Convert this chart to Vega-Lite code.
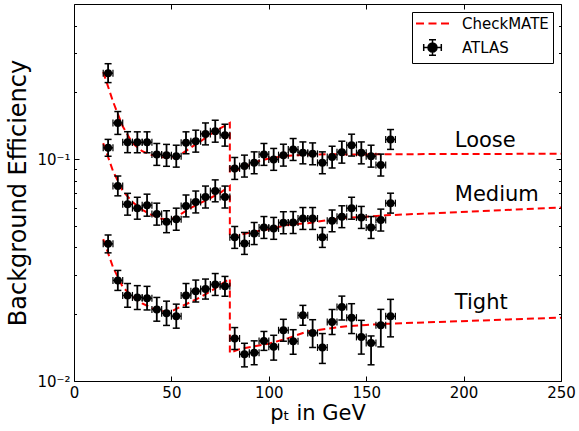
{
  "$schema": "https://vega.github.io/schema/vega-lite/v6.json",
  "width": 487,
  "height": 377,
  "autosize": {"type": "none"},
  "padding": {"left": 74, "top": 4, "right": 18, "bottom": 50},
  "background": "white",
  "datasets": {
    "atlas": [
      {"cut":"Loose","pt":17.5,"ptlo":15,"pthi":20,"eff":0.244,"lo":0.2212,"hi":0.2691},
      {"cut":"Loose","pt":22.5,"ptlo":20,"pthi":25,"eff":0.1455,"lo":0.1292,"hi":0.1638},
      {"cut":"Loose","pt":27.5,"ptlo":25,"pthi":30,"eff":0.1192,"lo":0.1069,"hi":0.1329},
      {"cut":"Loose","pt":32.5,"ptlo":30,"pthi":35,"eff":0.119,"lo":0.1068,"hi":0.1327},
      {"cut":"Loose","pt":37.5,"ptlo":35,"pthi":40,"eff":0.119,"lo":0.1068,"hi":0.1327},
      {"cut":"Loose","pt":42.5,"ptlo":40,"pthi":45,"eff":0.105,"lo":0.0937,"hi":0.1176},
      {"cut":"Loose","pt":47.5,"ptlo":45,"pthi":50,"eff":0.104,"lo":0.0928,"hi":0.1165},
      {"cut":"Loose","pt":52.5,"ptlo":50,"pthi":55,"eff":0.1031,"lo":0.092,"hi":0.1155},
      {"cut":"Loose","pt":57.5,"ptlo":55,"pthi":60,"eff":0.1184,"lo":0.1057,"hi":0.1327},
      {"cut":"Loose","pt":62.5,"ptlo":60,"pthi":65,"eff":0.1205,"lo":0.1075,"hi":0.135},
      {"cut":"Loose","pt":67.5,"ptlo":65,"pthi":70,"eff":0.1299,"lo":0.1159,"hi":0.1455},
      {"cut":"Loose","pt":72.5,"ptlo":70,"pthi":75,"eff":0.1336,"lo":0.1192,"hi":0.1497},
      {"cut":"Loose","pt":77.5,"ptlo":75,"pthi":80,"eff":0.1282,"lo":0.1144,"hi":0.1436},
      {"cut":"Loose","pt":82.5,"ptlo":80,"pthi":85,"eff":0.0908,"lo":0.081,"hi":0.1017},
      {"cut":"Loose","pt":87.5,"ptlo":85,"pthi":90,"eff":0.093,"lo":0.083,"hi":0.1042},
      {"cut":"Loose","pt":92.5,"ptlo":90,"pthi":95,"eff":0.0962,"lo":0.0859,"hi":0.1078},
      {"cut":"Loose","pt":97.5,"ptlo":95,"pthi":100,"eff":0.105,"lo":0.0937,"hi":0.1176},
      {"cut":"Loose","pt":102.5,"ptlo":100,"pthi":105,"eff":0.0997,"lo":0.089,"hi":0.1117},
      {"cut":"Loose","pt":107.5,"ptlo":105,"pthi":110,"eff":0.1042,"lo":0.093,"hi":0.1167},
      {"cut":"Loose","pt":112.5,"ptlo":110,"pthi":115,"eff":0.1105,"lo":0.0986,"hi":0.1238},
      {"cut":"Loose","pt":117.5,"ptlo":115,"pthi":120,"eff":0.1067,"lo":0.0952,"hi":0.1195},
      {"cut":"Loose","pt":122.5,"ptlo":120,"pthi":125,"eff":0.1056,"lo":0.0943,"hi":0.1183},
      {"cut":"Loose","pt":127.5,"ptlo":125,"pthi":130,"eff":0.0962,"lo":0.0859,"hi":0.1078},
      {"cut":"Loose","pt":132.5,"ptlo":130,"pthi":135,"eff":0.1021,"lo":0.0911,"hi":0.1144},
      {"cut":"Loose","pt":137.5,"ptlo":135,"pthi":140,"eff":0.1075,"lo":0.0959,"hi":0.1204},
      {"cut":"Loose","pt":142.5,"ptlo":140,"pthi":145,"eff":0.1156,"lo":0.1032,"hi":0.1295},
      {"cut":"Loose","pt":147.5,"ptlo":145,"pthi":150,"eff":0.1067,"lo":0.0952,"hi":0.1195},
      {"cut":"Loose","pt":152.5,"ptlo":150,"pthi":155,"eff":0.1031,"lo":0.092,"hi":0.1155},
      {"cut":"Loose","pt":157.5,"ptlo":155,"pthi":160,"eff":0.094,"lo":0.0839,"hi":0.1053},
      {"cut":"Loose","pt":162.5,"ptlo":160,"pthi":165,"eff":0.1226,"lo":0.1106,"hi":0.1359},
      {"cut":"Medium","pt":17.5,"ptlo":15,"pthi":20,"eff":0.1124,"lo":0.103,"hi":0.1227},
      {"cut":"Medium","pt":22.5,"ptlo":20,"pthi":25,"eff":0.0757,"lo":0.0683,"hi":0.0839},
      {"cut":"Medium","pt":27.5,"ptlo":25,"pthi":30,"eff":0.0626,"lo":0.0559,"hi":0.0701},
      {"cut":"Medium","pt":32.5,"ptlo":30,"pthi":35,"eff":0.0601,"lo":0.0536,"hi":0.0673},
      {"cut":"Medium","pt":37.5,"ptlo":35,"pthi":40,"eff":0.062,"lo":0.0553,"hi":0.0695},
      {"cut":"Medium","pt":42.5,"ptlo":40,"pthi":45,"eff":0.0565,"lo":0.0504,"hi":0.0633},
      {"cut":"Medium","pt":47.5,"ptlo":45,"pthi":50,"eff":0.0522,"lo":0.0466,"hi":0.0585},
      {"cut":"Medium","pt":52.5,"ptlo":50,"pthi":55,"eff":0.0536,"lo":0.0478,"hi":0.0601},
      {"cut":"Medium","pt":57.5,"ptlo":55,"pthi":60,"eff":0.0615,"lo":0.0549,"hi":0.0689},
      {"cut":"Medium","pt":62.5,"ptlo":60,"pthi":65,"eff":0.0641,"lo":0.0572,"hi":0.0718},
      {"cut":"Medium","pt":67.5,"ptlo":65,"pthi":70,"eff":0.0675,"lo":0.0602,"hi":0.0756},
      {"cut":"Medium","pt":72.5,"ptlo":70,"pthi":75,"eff":0.0719,"lo":0.0642,"hi":0.0806},
      {"cut":"Medium","pt":77.5,"ptlo":75,"pthi":80,"eff":0.0675,"lo":0.0602,"hi":0.0756},
      {"cut":"Medium","pt":82.5,"ptlo":80,"pthi":85,"eff":0.0444,"lo":0.0396,"hi":0.0497},
      {"cut":"Medium","pt":87.5,"ptlo":85,"pthi":90,"eff":0.0417,"lo":0.0372,"hi":0.0467},
      {"cut":"Medium","pt":92.5,"ptlo":90,"pthi":95,"eff":0.0462,"lo":0.0412,"hi":0.0518},
      {"cut":"Medium","pt":97.5,"ptlo":95,"pthi":100,"eff":0.0492,"lo":0.0439,"hi":0.0551},
      {"cut":"Medium","pt":102.5,"ptlo":100,"pthi":105,"eff":0.0487,"lo":0.0435,"hi":0.0546},
      {"cut":"Medium","pt":107.5,"ptlo":105,"pthi":110,"eff":0.0517,"lo":0.0461,"hi":0.0579},
      {"cut":"Medium","pt":112.5,"ptlo":110,"pthi":115,"eff":0.0518,"lo":0.0462,"hi":0.058},
      {"cut":"Medium","pt":117.5,"ptlo":115,"pthi":120,"eff":0.054,"lo":0.0482,"hi":0.0605},
      {"cut":"Medium","pt":122.5,"ptlo":120,"pthi":125,"eff":0.054,"lo":0.0482,"hi":0.0605},
      {"cut":"Medium","pt":127.5,"ptlo":125,"pthi":130,"eff":0.0444,"lo":0.04,"hi":0.0492},
      {"cut":"Medium","pt":132.5,"ptlo":130,"pthi":135,"eff":0.0527,"lo":0.047,"hi":0.059},
      {"cut":"Medium","pt":137.5,"ptlo":135,"pthi":140,"eff":0.055,"lo":0.0491,"hi":0.0616},
      {"cut":"Medium","pt":142.5,"ptlo":140,"pthi":145,"eff":0.0601,"lo":0.0536,"hi":0.0673},
      {"cut":"Medium","pt":147.5,"ptlo":145,"pthi":150,"eff":0.0546,"lo":0.0487,"hi":0.0612},
      {"cut":"Medium","pt":152.5,"ptlo":150,"pthi":155,"eff":0.0492,"lo":0.0439,"hi":0.0551},
      {"cut":"Medium","pt":157.5,"ptlo":155,"pthi":160,"eff":0.0531,"lo":0.0474,"hi":0.0595},
      {"cut":"Medium","pt":162.5,"ptlo":160,"pthi":165,"eff":0.0633,"lo":0.0571,"hi":0.0702},
      {"cut":"Tight","pt":17.5,"ptlo":15,"pthi":20,"eff":0.0415,"lo":0.0378,"hi":0.0455},
      {"cut":"Tight","pt":22.5,"ptlo":20,"pthi":25,"eff":0.0284,"lo":0.0256,"hi":0.0315},
      {"cut":"Tight","pt":27.5,"ptlo":25,"pthi":30,"eff":0.0243,"lo":0.0215,"hi":0.0275},
      {"cut":"Tight","pt":32.5,"ptlo":30,"pthi":35,"eff":0.0238,"lo":0.021,"hi":0.0269},
      {"cut":"Tight","pt":37.5,"ptlo":35,"pthi":40,"eff":0.0236,"lo":0.0209,"hi":0.0267},
      {"cut":"Tight","pt":42.5,"ptlo":40,"pthi":45,"eff":0.021,"lo":0.0186,"hi":0.0238},
      {"cut":"Tight","pt":47.5,"ptlo":45,"pthi":50,"eff":0.0202,"lo":0.0178,"hi":0.0229},
      {"cut":"Tight","pt":52.5,"ptlo":50,"pthi":55,"eff":0.0196,"lo":0.0173,"hi":0.0222},
      {"cut":"Tight","pt":57.5,"ptlo":55,"pthi":60,"eff":0.0243,"lo":0.0215,"hi":0.0275},
      {"cut":"Tight","pt":62.5,"ptlo":60,"pthi":65,"eff":0.0254,"lo":0.0227,"hi":0.0285},
      {"cut":"Tight","pt":67.5,"ptlo":65,"pthi":70,"eff":0.026,"lo":0.0234,"hi":0.0288},
      {"cut":"Tight","pt":72.5,"ptlo":70,"pthi":75,"eff":0.0272,"lo":0.0243,"hi":0.0305},
      {"cut":"Tight","pt":77.5,"ptlo":75,"pthi":80,"eff":0.0267,"lo":0.0241,"hi":0.0296},
      {"cut":"Tight","pt":82.5,"ptlo":80,"pthi":85,"eff":0.01554,"lo":0.01387,"hi":0.01741},
      {"cut":"Tight","pt":87.5,"ptlo":85,"pthi":90,"eff":0.0132,"lo":0.01158,"hi":0.01479},
      {"cut":"Tight","pt":92.5,"ptlo":90,"pthi":95,"eff":0.0134,"lo":0.01184,"hi":0.01517},
      {"cut":"Tight","pt":97.5,"ptlo":95,"pthi":100,"eff":0.01516,"lo":0.01374,"hi":0.01672},
      {"cut":"Tight","pt":102.5,"ptlo":100,"pthi":105,"eff":0.01425,"lo":0.01242,"hi":0.01607},
      {"cut":"Tight","pt":107.5,"ptlo":105,"pthi":110,"eff":0.01693,"lo":0.01511,"hi":0.01897},
      {"cut":"Tight","pt":112.5,"ptlo":110,"pthi":115,"eff":0.0151,"lo":0.0132,"hi":0.01703},
      {"cut":"Tight","pt":117.5,"ptlo":115,"pthi":120,"eff":0.01977,"lo":0.01783,"hi":0.02192},
      {"cut":"Tight","pt":122.5,"ptlo":120,"pthi":125,"eff":0.01647,"lo":0.01416,"hi":0.01889},
      {"cut":"Tight","pt":127.5,"ptlo":125,"pthi":130,"eff":0.01416,"lo":0.012,"hi":0.01636},
      {"cut":"Tight","pt":132.5,"ptlo":130,"pthi":135,"eff":0.01845,"lo":0.01622,"hi":0.02099},
      {"cut":"Tight","pt":137.5,"ptlo":135,"pthi":140,"eff":0.02154,"lo":0.01883,"hi":0.02413},
      {"cut":"Tight","pt":142.5,"ptlo":140,"pthi":145,"eff":0.0193,"lo":0.01636,"hi":0.0223},
      {"cut":"Tight","pt":147.5,"ptlo":145,"pthi":150,"eff":0.0158,"lo":0.01322,"hi":0.01877},
      {"cut":"Tight","pt":152.5,"ptlo":150,"pthi":155,"eff":0.01485,"lo":0.01183,"hi":0.01596},
      {"cut":"Tight","pt":157.5,"ptlo":155,"pthi":160,"eff":0.01783,"lo":0.01425,"hi":0.02103},
      {"cut":"Tight","pt":162.5,"ptlo":160,"pthi":165,"eff":0.01957,"lo":0.01581,"hi":0.02333}
    ],
    "checkmate": [
      {"cut":"Loose","i":0,"pt":15,"eff":0.247},
      {"cut":"Loose","i":1,"pt":20,"eff":0.182},
      {"cut":"Loose","i":2,"pt":25,"eff":0.1406},
      {"cut":"Loose","i":3,"pt":30,"eff":0.118},
      {"cut":"Loose","i":4,"pt":35,"eff":0.1086},
      {"cut":"Loose","i":5,"pt":40,"eff":0.1043},
      {"cut":"Loose","i":6,"pt":45,"eff":0.1022},
      {"cut":"Loose","i":7,"pt":50,"eff":0.1012},
      {"cut":"Loose","i":8,"pt":55,"eff":0.1052},
      {"cut":"Loose","i":9,"pt":60,"eff":0.1128},
      {"cut":"Loose","i":10,"pt":65,"eff":0.1203},
      {"cut":"Loose","i":11,"pt":70,"eff":0.1293},
      {"cut":"Loose","i":12,"pt":75,"eff":0.1375},
      {"cut":"Loose","i":13,"pt":80,"eff":0.1455},
      {"cut":"Loose","i":14,"pt":80,"eff":0.0866},
      {"cut":"Loose","i":15,"pt":85,"eff":0.0902},
      {"cut":"Loose","i":16,"pt":90,"eff":0.0939},
      {"cut":"Loose","i":17,"pt":95,"eff":0.098},
      {"cut":"Loose","i":18,"pt":100,"eff":0.1006},
      {"cut":"Loose","i":19,"pt":105,"eff":0.1022},
      {"cut":"Loose","i":20,"pt":110,"eff":0.1035},
      {"cut":"Loose","i":21,"pt":120,"eff":0.1046},
      {"cut":"Loose","i":22,"pt":130,"eff":0.1051},
      {"cut":"Loose","i":23,"pt":140,"eff":0.105},
      {"cut":"Loose","i":24,"pt":150,"eff":0.105},
      {"cut":"Loose","i":25,"pt":160,"eff":0.1052},
      {"cut":"Loose","i":26,"pt":250,"eff":0.1057},
      {"cut":"Medium","i":0,"pt":15,"eff":0.118},
      {"cut":"Medium","i":1,"pt":20,"eff":0.0884},
      {"cut":"Medium","i":2,"pt":25,"eff":0.0719},
      {"cut":"Medium","i":3,"pt":30,"eff":0.0641},
      {"cut":"Medium","i":4,"pt":35,"eff":0.0591},
      {"cut":"Medium","i":5,"pt":40,"eff":0.0559},
      {"cut":"Medium","i":6,"pt":45,"eff":0.0538},
      {"cut":"Medium","i":7,"pt":50,"eff":0.0535},
      {"cut":"Medium","i":8,"pt":55,"eff":0.0567},
      {"cut":"Medium","i":9,"pt":60,"eff":0.0603},
      {"cut":"Medium","i":10,"pt":65,"eff":0.0635},
      {"cut":"Medium","i":11,"pt":70,"eff":0.0668},
      {"cut":"Medium","i":12,"pt":75,"eff":0.0704},
      {"cut":"Medium","i":13,"pt":80,"eff":0.0757},
      {"cut":"Medium","i":14,"pt":80,"eff":0.0444},
      {"cut":"Medium","i":15,"pt":90,"eff":0.0466},
      {"cut":"Medium","i":16,"pt":100,"eff":0.0483},
      {"cut":"Medium","i":17,"pt":110,"eff":0.0506},
      {"cut":"Medium","i":18,"pt":120,"eff":0.0514},
      {"cut":"Medium","i":19,"pt":130,"eff":0.0531},
      {"cut":"Medium","i":20,"pt":140,"eff":0.0544},
      {"cut":"Medium","i":21,"pt":150,"eff":0.055},
      {"cut":"Medium","i":22,"pt":160,"eff":0.0558},
      {"cut":"Medium","i":23,"pt":250,"eff":0.0605},
      {"cut":"Tight","i":0,"pt":15,"eff":0.0436},
      {"cut":"Tight","i":1,"pt":20,"eff":0.0326},
      {"cut":"Tight","i":2,"pt":25,"eff":0.0265},
      {"cut":"Tight","i":3,"pt":30,"eff":0.024},
      {"cut":"Tight","i":4,"pt":35,"eff":0.0224},
      {"cut":"Tight","i":5,"pt":40,"eff":0.0213},
      {"cut":"Tight","i":6,"pt":45,"eff":0.0206},
      {"cut":"Tight","i":7,"pt":50,"eff":0.0206},
      {"cut":"Tight","i":8,"pt":55,"eff":0.0217},
      {"cut":"Tight","i":9,"pt":60,"eff":0.0227},
      {"cut":"Tight","i":10,"pt":65,"eff":0.0239},
      {"cut":"Tight","i":11,"pt":70,"eff":0.0253},
      {"cut":"Tight","i":12,"pt":75,"eff":0.0271},
      {"cut":"Tight","i":13,"pt":80,"eff":0.0289},
      {"cut":"Tight","i":14,"pt":80,"eff":0.0134},
      {"cut":"Tight","i":15,"pt":85,"eff":0.01392},
      {"cut":"Tight","i":16,"pt":90,"eff":0.0142},
      {"cut":"Tight","i":17,"pt":100,"eff":0.01473},
      {"cut":"Tight","i":18,"pt":110,"eff":0.0156},
      {"cut":"Tight","i":19,"pt":120,"eff":0.01675},
      {"cut":"Tight","i":20,"pt":130,"eff":0.0172},
      {"cut":"Tight","i":21,"pt":140,"eff":0.01765},
      {"cut":"Tight","i":22,"pt":150,"eff":0.0179},
      {"cut":"Tight","i":23,"pt":160,"eff":0.0181},
      {"cut":"Tight","i":24,"pt":250,"eff":0.0193}
    ],
    "labels": [
      {"cut":"Loose","pt":195.5,"eff":0.1136},
      {"cut":"Medium","pt":195.5,"eff":0.0648},
      {"cut":"Tight","pt":195.5,"eff":0.0212}
    ]
  },
  "layer": [
    {
      "data": {"name": "checkmate"},
      "mark": {"type": "line", "strokeDash": [7, 4], "strokeWidth": 2},
      "encoding": {
        "x": {"field": "pt", "type": "quantitative", "scale": {"domain": [0, 250], "nice": false, "zero": false},
          "axis": {"orient": "bottom", "values": [0, 50, 100, 150, 200, 250], "tickSize": -5, "tickWidth": 1, "labelPadding": 21, "labelBaseline": "alphabetic", "labelFlush": false, "labelOverlap": false, "labelFontSize": 15, "title": "pₜ in GeV", "titleFontSize": 21, "titleY": 38, "titleBaseline": "alphabetic"}},
        "y": {"field": "eff", "type": "quantitative", "scale": {"type": "log", "domain": [0.01, 0.5], "nice": false},
          "axis": {"orient": "left", "values": [0.01, 0.1], "tickSize": -5, "tickWidth": 1, "labelPadding": 9, "labelBaseline": "middle", "labelFlush": false, "labelOverlap": false, "labelFontSize": 15, "labelExpr": "datum.value < 0.05 ? '10⁻²' : '10⁻¹'", "title": "Background Efficiency", "titleFontSize": 24, "titleX": -49, "titleY": 188.5, "titleBaseline": "alphabetic", "titleAngle": -90}},
        "detail": {"field": "cut"},
        "order": {"field": "i", "type": "quantitative"},
        "color": {"datum": "CheckMATE", "scale": {"domain": ["CheckMATE", "ATLAS"], "range": ["#ff0000", "#000000"]},
          "legend": {"title": null, "orient": "top-right", "offset": 8, "padding": 4, "strokeColor": "black", "fillColor": "white", "cornerRadius": 0,
            "labelFontSize": 15, "labelFont": "DejaVu Sans", "labelColor": "black", "symbolSize": 100, "symbolOffset": 9, "labelOffset": 22, "rowPadding": 4,
            "encode": {"symbols": {"update": {
              "shape": {"signal": "datum.value === 'ATLAS' ? 'M-1.76,0H1.76M0,-1.56V1.56M-0.7,-1.56H0.7M-0.7,1.56H0.7M-1.76,-0.7V0.7M1.76,-0.7V0.7M0.9,0A0.9,0.9,0,1,1,-0.9,0A0.9,0.9,0,1,1,0.9,0Z' : 'M-3.3,0H-1.7M-0.8,0H0.8M1.7,0H3.3'"},
              "fill": {"signal": "datum.value === 'ATLAS' ? '#000000' : 'transparent'"},
              "stroke": {"signal": "datum.value === 'ATLAS' ? '#000000' : '#ff0000'"},
              "strokeWidth": {"signal": "datum.value === 'ATLAS' ? 1.5 : 2"},
              "opacity": {"value": 1}
            }}}}}
      }
    },
    {
      "data": {"name": "atlas"},
      "mark": {"type": "rule", "strokeWidth": 1.5, "color": "black"},
      "encoding": {
        "x": {"field": "ptlo", "type": "quantitative", "scale": {"domain": [0, 250], "nice": false, "zero": false},
          "axis": {"orient": "top", "values": [0, 50, 100, 150, 200, 250], "tickSize": -5, "tickWidth": 1, "labels": false, "title": null}},
        "x2": {"field": "pthi"},
        "y": {"field": "eff", "type": "quantitative", "scale": {"type": "log", "domain": [0.01, 0.5], "nice": false},
          "axis": {"orient": "right", "values": [0.01, 0.1], "tickSize": -5, "tickWidth": 1, "labels": false, "title": null}}
      }
    },
    {
      "data": {"name": "atlas"},
      "mark": {"type": "rule", "strokeWidth": 1.8, "color": "black"},
      "encoding": {
        "x": {"field": "pt", "type": "quantitative", "scale": {"domain": [0, 250], "nice": false, "zero": false}, "axis": null},
        "y": {"field": "lo", "type": "quantitative", "scale": {"type": "log", "domain": [0.01, 0.5], "nice": false},
          "axis": {"orient": "left", "values": [0.02, 0.03, 0.04, 0.05, 0.06, 0.07, 0.08, 0.09, 0.2, 0.3, 0.4], "tickSize": -2.5, "tickWidth": 1, "labels": false, "title": null}},
        "y2": {"field": "hi"}
      }
    },
    {
      "data": {"name": "atlas"},
      "mark": {"type": "tick", "orient": "horizontal", "size": 7, "thickness": 1.5, "color": "black", "opacity": 1},
      "encoding": {
        "x": {"field": "pt", "type": "quantitative", "scale": {"domain": [0, 250], "nice": false, "zero": false}, "axis": null},
        "y": {"field": "lo", "type": "quantitative", "scale": {"type": "log", "domain": [0.01, 0.5], "nice": false},
          "axis": {"orient": "right", "values": [0.02, 0.03, 0.04, 0.05, 0.06, 0.07, 0.08, 0.09, 0.2, 0.3, 0.4], "tickSize": -2.5, "tickWidth": 1, "labels": false, "title": null}}
      }
    },
    {
      "data": {"name": "atlas"},
      "mark": {"type": "tick", "orient": "horizontal", "size": 7, "thickness": 1.5, "color": "black", "opacity": 1},
      "encoding": {
        "x": {"field": "pt", "type": "quantitative", "scale": {"domain": [0, 250], "nice": false, "zero": false}, "axis": null},
        "y": {"field": "hi", "type": "quantitative", "scale": {"type": "log", "domain": [0.01, 0.5], "nice": false}, "axis": null}
      }
    },
    {
      "data": {"name": "atlas"},
      "mark": {"type": "tick", "orient": "vertical", "size": 7, "thickness": 1.2, "color": "black", "opacity": 1},
      "encoding": {
        "x": {"field": "ptlo", "type": "quantitative", "scale": {"domain": [0, 250], "nice": false, "zero": false}, "axis": null},
        "y": {"field": "eff", "type": "quantitative", "scale": {"type": "log", "domain": [0.01, 0.5], "nice": false}, "axis": null}
      }
    },
    {
      "data": {"name": "atlas"},
      "mark": {"type": "tick", "orient": "vertical", "size": 7, "thickness": 1.2, "color": "black", "opacity": 1},
      "encoding": {
        "x": {"field": "pthi", "type": "quantitative", "scale": {"domain": [0, 250], "nice": false, "zero": false}, "axis": null},
        "y": {"field": "eff", "type": "quantitative", "scale": {"type": "log", "domain": [0.01, 0.5], "nice": false}, "axis": null}
      }
    },
    {
      "data": {"name": "atlas"},
      "mark": {"type": "circle", "size": 64, "opacity": 1},
      "encoding": {
        "x": {"field": "pt", "type": "quantitative", "scale": {"domain": [0, 250], "nice": false, "zero": false}, "axis": null},
        "y": {"field": "eff", "type": "quantitative", "scale": {"type": "log", "domain": [0.01, 0.5], "nice": false}, "axis": null},
        "color": {"datum": "ATLAS"}
      }
    },
    {
      "data": {"name": "labels"},
      "mark": {"type": "text", "align": "left", "baseline": "alphabetic", "fontSize": 21, "font": "DejaVu Sans", "color": "black"},
      "encoding": {
        "x": {"field": "pt", "type": "quantitative", "scale": {"domain": [0, 250], "nice": false, "zero": false}, "axis": null},
        "y": {"field": "eff", "type": "quantitative", "scale": {"type": "log", "domain": [0.01, 0.5], "nice": false}, "axis": null},
        "text": {"field": "cut"}
      }
    }
  ],
  "resolve": {"axis": {"x": "independent", "y": "independent"}},
  "config": {
    "font": "DejaVu Sans",
    "view": {"stroke": "black", "strokeWidth": 1},
    "axis": {"grid": false, "domain": false, "labelColor": "black", "tickColor": "black", "titleColor": "black", "labelFont": "DejaVu Sans", "titleFont": "DejaVu Sans", "titleFontWeight": "normal"}
  }
}
